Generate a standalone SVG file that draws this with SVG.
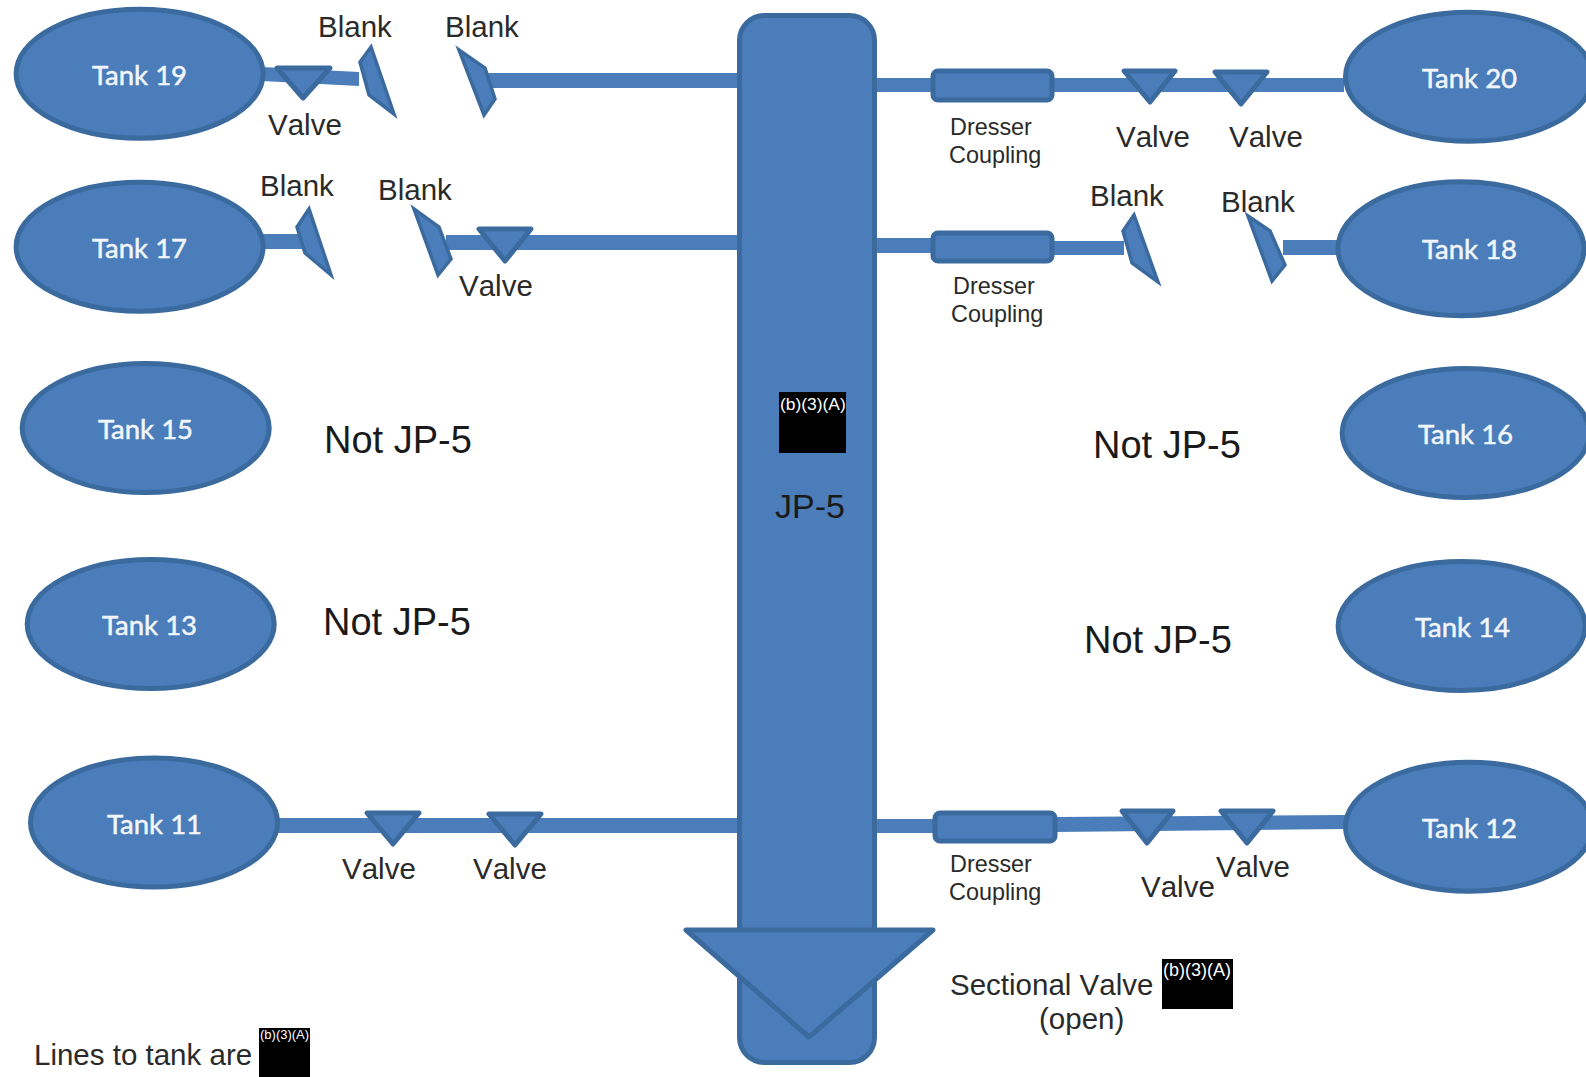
<svg xmlns="http://www.w3.org/2000/svg" width="1586" height="1077" viewBox="0 0 1586 1077">
<style>
.shape{fill:#4a7dba;stroke:#3b6a9f;stroke-width:5;stroke-linejoin:round}
.blank{fill:#4a7dba;stroke:#3b6a9f;stroke-width:3.5;stroke-linejoin:miter}
.pipe{fill:#4a7dba}
.tt{font-family:Lato,"Liberation Sans",sans-serif;font-size:27.5px;fill:#f2f6fb;stroke:#f2f6fb;stroke-width:.5}
.lb{font-family:"Liberation Sans",Arial,sans-serif;font-size:29.5px;fill:#2a2a2a;font-kerning:none}
.dc{font-family:"Liberation Sans",Arial,sans-serif;font-size:23.4px;fill:#2a2a2a;font-kerning:none}
.nj{font-family:"Liberation Sans",Arial,sans-serif;font-size:38px;fill:#1a1a1a;font-kerning:none}
.jp{font-family:"Liberation Sans",Arial,sans-serif;font-size:34px;fill:#1a1a1a;font-kerning:none}
.rd{font-family:"Liberation Sans",Arial,sans-serif;fill:#fff}
</style>
<rect width="1586" height="1077" fill="#fff"/>
<g id="connectors">
<polygon class="pipe" points="262,67 359,72 359,86 262,81"/>
<rect class="pipe" x="488" y="73" width="252" height="15"/>
<rect class="pipe" x="262" y="234" width="40" height="15"/>
<rect class="pipe" x="446" y="235" width="294" height="15"/>
<rect class="pipe" x="275" y="818" width="465" height="15"/>
<rect class="pipe" x="874" y="78" width="470" height="14"/>
<rect class="pipe" x="874" y="238" width="60" height="15"/>
<rect class="pipe" x="1050" y="241" width="74" height="14"/>
<rect class="pipe" x="1283" y="240" width="56" height="15"/>
<rect class="pipe" x="874" y="819" width="60" height="14"/>
<polygon class="pipe" points="1055,817 1346,815 1346,829 1055,832"/>
</g>
<g id="tank-19"><ellipse class="shape" cx="139.6" cy="73.7" rx="123.5" ry="64.5"/><text class="tt" x="92" y="85">Tank 19</text></g>
<g id="tank-17"><ellipse class="shape" cx="139.6" cy="246.7" rx="123.5" ry="64.5"/><text class="tt" x="92" y="257.5">Tank 17</text></g>
<g id="tank-15"><ellipse class="shape" cx="145.7" cy="428" rx="123.5" ry="64.5"/><text class="tt" x="98" y="439">Tank 15</text></g>
<g id="tank-13"><ellipse class="shape" cx="150.7" cy="624" rx="123.5" ry="64.5"/><text class="tt" x="102" y="635">Tank 13</text></g>
<g id="tank-11"><ellipse class="shape" cx="154" cy="822.5" rx="123.5" ry="64.5"/><text class="tt" x="107" y="834">Tank 11</text></g>
<g id="tank-20"><ellipse class="shape" cx="1469" cy="76.7" rx="123.5" ry="64.5"/><text class="tt" x="1422" y="88">Tank 20</text></g>
<g id="tank-18"><ellipse class="shape" cx="1461" cy="248.7" rx="123" ry="67"/><text class="tt" x="1422" y="259">Tank 18</text></g>
<g id="tank-16"><ellipse class="shape" cx="1465.7" cy="433" rx="123.5" ry="64.5"/><text class="tt" x="1418" y="444">Tank 16</text></g>
<g id="tank-14"><ellipse class="shape" cx="1461.6" cy="626" rx="123.5" ry="64.5"/><text class="tt" x="1415" y="637">Tank 14</text></g>
<g id="tank-12"><ellipse class="shape" cx="1469" cy="826.7" rx="123.5" ry="64.5"/><text class="tt" x="1422" y="838">Tank 12</text></g>
<g id="jp5-bus">
<rect class="shape" x="739.5" y="15.5" width="135" height="1047" rx="25"/>
<rect x="779" y="392" width="67" height="61" fill="#000"/>
<text class="rd" x="780" y="410" font-size="17.4">(b)(3)(A)</text>
<text class="jp" x="775" y="518">JP-5</text>
</g>
<g id="sectional-valve">
<polygon class="shape" points="686,930 933,930 809,1037"/>
<text class="lb" x="950" y="995">Sectional Valve</text>
<text class="lb" x="1039" y="1029">(open)</text>
<rect x="1162" y="959" width="71" height="50" fill="#000"/>
<text class="rd" x="1163" y="976" font-size="18">(b)(3)(A)</text>
</g>
<g id="valve-19"><polygon class="shape" points="277,68 330,68 303,98"/><text class="lb" x="268" y="135">Valve</text></g>
<g id="blank-19a"><polygon class="blank" points="371,47 360,62 369,95 394,114"/><text class="lb" x="318" y="37">Blank</text></g>
<g id="blank-19b"><polygon class="blank" points="459,50 485,68 495,99 484,115"/><text class="lb" x="445" y="37">Blank</text></g>
<g id="blank-17a"><polygon class="blank" points="309,209 297,227 305,253 331,275"/><text class="lb" x="260" y="196">Blank</text></g>
<g id="blank-17b"><polygon class="blank" points="414,209 439,227 451,259 438,275"/><text class="lb" x="378" y="200">Blank</text></g>
<g id="valve-17"><polygon class="shape" points="479,229 531,229 505,261"/><text class="lb" x="459" y="296">Valve</text></g>
<g id="coupling-20"><rect class="shape" x="933" y="71" width="119" height="29" rx="5"/><text class="dc" x="950" y="135">Dresser</text><text class="dc" x="949" y="163">Coupling</text></g>
<g id="valve-20a"><polygon class="shape" points="1124,71 1175,71 1150,102"/><text class="lb" x="1116" y="147">Valve</text></g>
<g id="valve-20b"><polygon class="shape" points="1215,72 1267,72 1241,104"/><text class="lb" x="1229" y="147">Valve</text></g>
<g id="coupling-18"><rect class="shape" x="933" y="233" width="119" height="28" rx="5"/><text class="dc" x="953" y="294">Dresser</text><text class="dc" x="951" y="322">Coupling</text></g>
<g id="blank-18a"><polygon class="blank" points="1134,215 1123,231 1132,263 1158,282"/><text class="lb" x="1090" y="206">Blank</text></g>
<g id="blank-18b"><polygon class="blank" points="1248,216 1270,231 1285,265 1272,281"/><text class="lb" x="1221" y="212">Blank</text></g>
<g id="valve-11a"><polygon class="shape" points="367,813 419,813 393,844"/><text class="lb" x="342" y="879">Valve</text></g>
<g id="valve-11b"><polygon class="shape" points="489,814 541,814 515,845"/><text class="lb" x="473" y="879">Valve</text></g>
<g id="coupling-12"><rect class="shape" x="935" y="813" width="120" height="28" rx="5"/><text class="dc" x="950" y="872">Dresser</text><text class="dc" x="949" y="900">Coupling</text></g>
<g id="valve-12a"><polygon class="shape" points="1122,811 1173,811 1147,843"/><text class="lb" x="1141" y="897">Valve</text></g>
<g id="valve-12b"><polygon class="shape" points="1221,811 1273,811 1247,843"/><text class="lb" x="1216" y="877">Valve</text></g>
<g id="not-jp5">
<text class="nj" x="324" y="453">Not JP-5</text>
<text class="nj" x="323" y="635">Not JP-5</text>
<text class="nj" x="1093" y="458">Not JP-5</text>
<text class="nj" x="1084" y="653">Not JP-5</text>
</g>
<g id="legend">
<text class="lb" x="34" y="1065">Lines to tank are</text>
<rect x="259" y="1028" width="51" height="49" fill="#000"/>
<text class="rd" x="260" y="1039" font-size="13">(b)(3)(A)</text>
</g>
</svg>
